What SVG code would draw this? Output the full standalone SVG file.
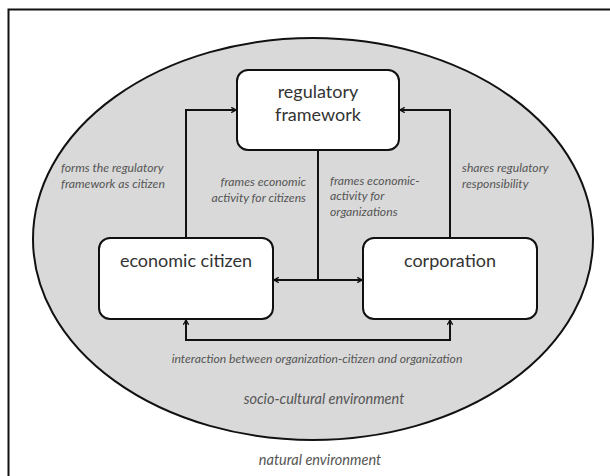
<svg xmlns="http://www.w3.org/2000/svg" width="610" height="476" viewBox="0 0 610 476">
<style>
.box{fill:#fff;stroke:#111;stroke-width:2}
.bt{font-family:Lato,"Open Sans","Liberation Sans",sans-serif;font-size:18px;fill:#333;text-anchor:middle}
.lb{font-family:Lato,"Open Sans","Liberation Sans",sans-serif;font-size:12.2px;font-style:italic;fill:#555}
.env{font-size:14.5px}
.ln{fill:none;stroke:#111;stroke-width:2}
</style>
<defs>
<marker id="ar" viewBox="0 0 10 10" refX="9" refY="5" markerWidth="6" markerHeight="6" orient="auto-start-reverse" markerUnits="userSpaceOnUse">
<path d="M1,0.5 L9,5 L1,9.5" fill="none" stroke="#111" stroke-width="2.2"/>
</marker>
</defs>
<rect x="0" y="0" width="610" height="476" fill="#fff"/>
<rect x="8.5" y="9.5" width="640" height="520" fill="none" stroke="#111" stroke-width="2"/>
<g id="socio-cultural">
<ellipse cx="313" cy="239" rx="280" ry="201" fill="#d9d9d9" stroke="#111" stroke-width="2"/>
<text class="lb env" x="324" y="404" text-anchor="middle">socio-cultural environment</text>
</g>
<g id="natural"><text class="lb env" x="320" y="465" text-anchor="middle">natural environment</text></g>
<g id="connectors">
<polyline class="ln" points="186,238 186,110 236,110" marker-end="url(#ar)"/>
<polyline class="ln" points="450,238 450,110 400,110" marker-end="url(#ar)"/>
<line class="ln" x1="318" y1="150" x2="318" y2="280"/>
<line class="ln" x1="274" y1="280" x2="362" y2="280" marker-start="url(#ar)" marker-end="url(#ar)"/>
<polyline class="ln" points="186,320 186,340 450,340 450,320" marker-start="url(#ar)" marker-end="url(#ar)"/>
<text class="lb" x="61" y="172">forms the regulatory</text>
<text class="lb" x="61" y="188">framework as citizen</text>
<text class="lb" x="306" y="186" text-anchor="end">frames economic</text>
<text class="lb" x="306" y="202" text-anchor="end">activity for citizens</text>
<text class="lb" x="330" y="185">frames economic-</text>
<text class="lb" x="330" y="200">activity for</text>
<text class="lb" x="330" y="216">organizations</text>
<text class="lb" x="462" y="172">shares regulatory</text>
<text class="lb" x="462" y="188">responsibility</text>
<text class="lb" x="317" y="363" text-anchor="middle">interaction between organization-citizen and organization</text>
</g>
<g id="regulatory-framework">
<rect class="box" x="237" y="70" width="162" height="80" rx="11"/>
<text class="bt" x="318" y="98">regulatory</text>
<text class="bt" x="318" y="121">framework</text>
</g>
<g id="economic-citizen">
<rect class="box" x="99" y="238" width="174" height="81" rx="11"/>
<text class="bt" x="186" y="267">economic citizen</text>
</g>
<g id="corporation">
<rect class="box" x="363" y="238" width="174" height="81" rx="11"/>
<text class="bt" x="450" y="267">corporation</text>
</g>
</svg>
